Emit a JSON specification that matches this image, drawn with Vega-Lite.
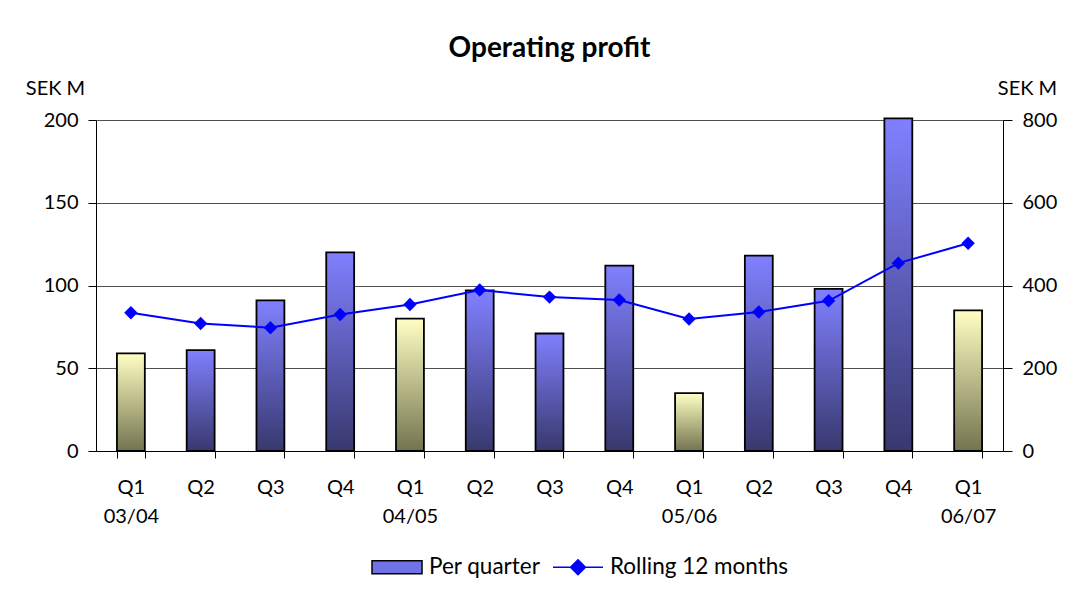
{
  "$schema": "https://vega.github.io/schema/vega-lite/v6.json",
  "width": 907,
  "height": 331,
  "autosize": {"type": "none"},
  "padding": {"left": 96, "top": 120, "right": 82, "bottom": 152},
  "background": "white",
  "config": {
    "font": "Lato",
    "view": {"stroke": null},
    "axis": {
      "labelFontSize": 20,
      "titleFontSize": 20,
      "labelColor": "#000",
      "titleColor": "#000",
      "titleFontWeight": "normal",
      "domainColor": "#000",
      "tickColor": "#000",
      "labelFont": "Lato",
      "titleFont": "Lato"
    },
    "legend": {
      "title": null,
      "orient": "none",
      "legendX": 275,
      "legendY": 421,
      "direction": "horizontal",
      "symbolSize": 2500,
      "symbolOpacity": 1,
      "symbolStrokeWidth": 1.5,
      "labelFontSize": 22.5,
      "labelFont": "Lato",
      "labelColor": "#000",
      "labelOffset": 6,
      "labelLimit": 400,
      "columnPadding": 9
    }
  },
  "title": {
    "text": "Operating profit",
    "fontSize": 28,
    "fontWeight": "bold",
    "font": "Lato",
    "color": "#000",
    "anchor": "middle",
    "frame": "group",
    "offset": 15
  },
  "data": {
    "values": [
      {"period": "Q1 03/04", "quarter": "Q1", "profit": 59, "rolling": 334},
      {"period": "Q2 03/04", "quarter": "Q2", "profit": 61, "rolling": 308},
      {"period": "Q3 03/04", "quarter": "Q3", "profit": 91, "rolling": 298},
      {"period": "Q4 03/04", "quarter": "Q4", "profit": 120, "rolling": 330},
      {"period": "Q1 04/05", "quarter": "Q1", "profit": 80, "rolling": 354},
      {"period": "Q2 04/05", "quarter": "Q2", "profit": 97, "rolling": 389},
      {"period": "Q3 04/05", "quarter": "Q3", "profit": 71, "rolling": 372},
      {"period": "Q4 04/05", "quarter": "Q4", "profit": 112, "rolling": 365},
      {"period": "Q1 05/06", "quarter": "Q1", "profit": 35, "rolling": 319},
      {"period": "Q2 05/06", "quarter": "Q2", "profit": 118, "rolling": 336},
      {"period": "Q3 05/06", "quarter": "Q3", "profit": 98, "rolling": 363},
      {"period": "Q4 05/06", "quarter": "Q4", "profit": 201, "rolling": 454},
      {"period": "Q1 06/07", "quarter": "Q1", "profit": 85, "rolling": 502}
    ]
  },
  "encoding": {
    "x": {
      "field": "period",
      "type": "nominal",
      "sort": null,
      "scale": {
        "domain": ["Q1 03/04", "Q2 03/04", "Q3 03/04", "Q4 03/04", "Q1 04/05", "Q2 04/05", "Q3 04/05", "Q4 04/05", "Q1 05/06", "Q2 05/06", "Q3 05/06", "Q4 05/06", "Q1 06/07"],
        "paddingInner": 0.6,
        "paddingOuter": 0.3
      },
      "axis": {
        "title": null,
        "labelAngle": 0,
        "tickBand": "extent",
        "tickSize": 7,
        "labelPadding": 19,
        "labelLineHeight": 29,
        "labelBaseline": "top",
        "grid": false,
        "labelExpr": "isValid(datum.value) ? (split(datum.value, ' ')[0] == 'Q1' ? split(datum.value, ' ') : split(datum.value, ' ')[0]) : ''"
      }
    }
  },
  "layer": [
    {
      "layer": [
        {
          "transform": [{"filter": "datum.quarter != 'Q1'"}],
          "mark": {
            "type": "bar",
            "fill": {"gradient": "linear", "x1": 0, "y1": 0, "x2": 0, "y2": 1,
              "stops": [{"offset": 0, "color": "#8080ff"}, {"offset": 1, "color": "#38386e"}]},
            "stroke": "#000",
            "strokeWidth": 1.8
          },
          "encoding": {
            "y": {
              "field": "profit", "type": "quantitative",
              "scale": {"domain": [0, 200], "nice": false},
              "axis": {
                "values": [0, 50, 100, 150, 200],
                "tickSize": 8,
                "labelPadding": 10,
                "grid": true,
                "gridColor": "#505050",
                "gridOpacity": 1,
                "title": "SEK M",
                "titleAngle": 0,
                "titleX": -41,
                "titleY": -32,
                "titleAlign": "center",
                "titleBaseline": "middle"
              }
            }
          }
        },
        {
          "transform": [{"filter": "datum.quarter == 'Q1'"}],
          "mark": {
            "type": "bar",
            "fill": {"gradient": "linear", "x1": 0, "y1": 0, "x2": 0, "y2": 1,
              "stops": [{"offset": 0, "color": "#ffffc4"}, {"offset": 1, "color": "#73734f"}]},
            "stroke": "#000",
            "strokeWidth": 1.8
          },
          "encoding": {
            "y": {"field": "profit", "type": "quantitative"}
          }
        },
        {
          "mark": {"type": "point", "opacity": 0},
          "encoding": {
            "y": {"field": "profit", "type": "quantitative"},
            "shape": {
              "datum": "Per quarter",
              "type": "nominal",
              "scale": {
                "domain": ["Per quarter", "Rolling 12 months"],
                "range": ["M-1,-0.26H1V0.26H-1Z", "M-1,0H1M0,-0.3L0.3,0L0,0.3L-0.3,0Z"]
              }
            },
            "fill": {
              "datum": "Per quarter",
              "type": "nominal",
              "scale": {
                "domain": ["Per quarter", "Rolling 12 months"],
                "range": ["#7272e8", "#0000ff"]
              }
            },
            "stroke": {
              "datum": "Per quarter",
              "type": "nominal",
              "scale": {
                "domain": ["Per quarter", "Rolling 12 months"],
                "range": ["#000000", "#0000ff"]
              }
            }
          }
        }
      ]
    },
    {
      "layer": [
        {
          "mark": {"type": "line", "color": "#0000ff", "strokeWidth": 2},
          "encoding": {
            "y": {
              "field": "rolling", "type": "quantitative",
              "scale": {"domain": [0, 800], "nice": false},
              "axis": {
                "orient": "right",
                "values": [0, 200, 400, 600, 800],
                "tickSize": 9,
                "labelPadding": 10,
                "grid": false,
                "title": "SEK M",
                "titleAngle": 0,
                "titleX": 24,
                "titleY": -32,
                "titleAlign": "center",
                "titleBaseline": "middle"
              }
            }
          }
        },
        {
          "mark": {"type": "point", "shape": "diamond", "filled": true, "color": "#0000ff", "size": 180, "opacity": 1},
          "encoding": {
            "y": {"field": "rolling", "type": "quantitative"}
          }
        }
      ]
    }
  ],
  "resolve": {"scale": {"y": "independent"}}
}
